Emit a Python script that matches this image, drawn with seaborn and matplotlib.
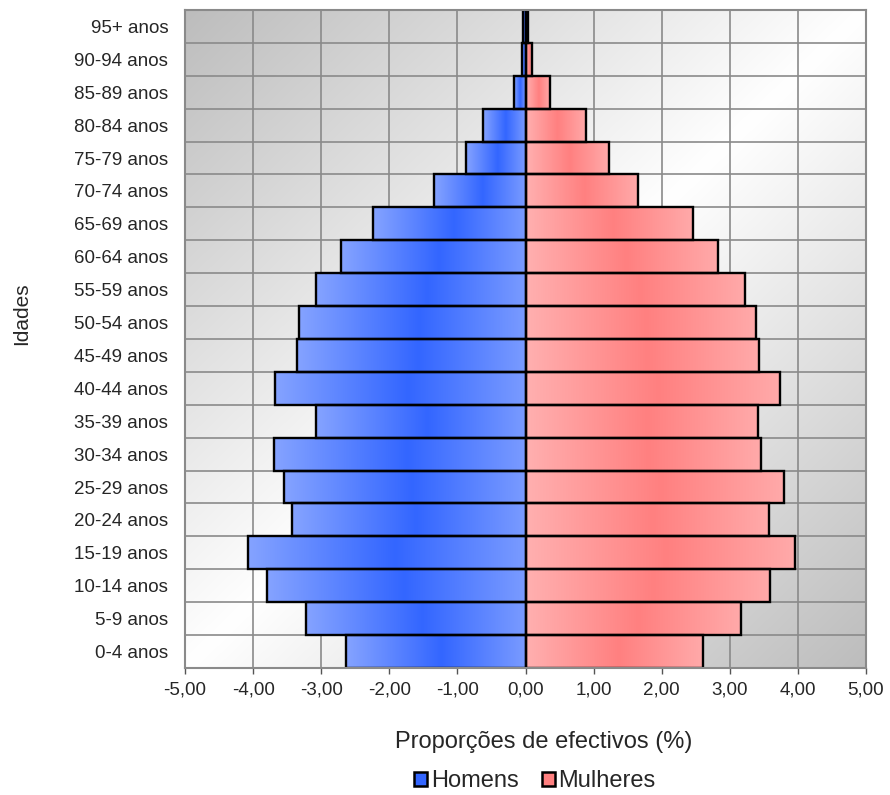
import numpy as np
import pandas as pd
import seaborn as sns
import matplotlib.pyplot as plt
from matplotlib.colors import LinearSegmentedColormap
from matplotlib.patches import Patch
from matplotlib.ticker import FixedLocator

sns.set_style("ticks")
plt.rcParams["font.family"] = ["Liberation Sans", "DejaVu Sans"]

# dados (proporções em %)
idades = ["95+ anos", "90-94 anos", "85-89 anos", "80-84 anos", "75-79 anos",
          "70-74 anos", "65-69 anos", "60-64 anos", "55-59 anos", "50-54 anos",
          "45-49 anos", "40-44 anos", "35-39 anos", "30-34 anos", "25-29 anos",
          "20-24 anos", "15-19 anos", "10-14 anos", "5-9 anos", "0-4 anos"]
homens = [-0.03, -0.05, -0.17, -0.63, -0.87, -1.34, -2.24, -2.71, -3.08, -3.33,
          -3.36, -3.68, -3.07, -3.70, -3.54, -3.43, -4.08, -3.79, -3.22, -2.63]
mulheres = [0.04, 0.09, 0.36, 0.89, 1.22, 1.65, 2.46, 2.82, 3.22, 3.38,
            3.43, 3.74, 3.41, 3.46, 3.80, 3.58, 3.96, 3.59, 3.16, 2.60]
xticks = [-5, -4, -3, -2, -1, 0, 1, 2, 3, 4, 5]
xlabels = ["-5,00", "-4,00", "-3,00", "-2,00", "-1,00", "0,00",
           "1,00", "2,00", "3,00", "4,00", "5,00"]

df = pd.DataFrame({
    "idade": idades * 2,
    "valor": homens + mulheres,
    "sexo": ["Homens"] * len(idades) + ["Mulheres"] * len(idades),
})

cores = {"Homens": "#3366ff", "Mulheres": "#ff8080"}
cmap_h = LinearSegmentedColormap.from_list("h", [(0, "#85a3ff"), (0.53, "#3366ff"), (1, "#7a9bff")])
cmap_m = LinearSegmentedColormap.from_list("m", [(0, "#ffb0b0"), (0.52, "#ff8080"), (1, "#ffaaaa")])

fig = plt.figure(figsize=(8.9, 7.95), dpi=100)
ax = fig.add_axes([185 / 890, 1 - 668 / 795, 681 / 890, 658 / 795])

sns.barplot(data=df, x="valor", y="idade", hue="sexo", order=idades,
            palette=cores, dodge=False, width=1.0, legend=False, ax=ax)

# fundo com gradiente diagonal
n = 300
xn, yn = np.meshgrid(np.linspace(0, 1, n), np.linspace(0, 1, n))
g = 1 - 0.26 * np.abs(xn + yn - 1)
ax.imshow(np.dstack([g, g, g]), extent=[0, 1, 0, 1], transform=ax.transAxes,
          aspect="auto", zorder=0, interpolation="bilinear")

# barras com gradiente horizontal
grad = np.linspace(0, 1, 256).reshape(1, -1)
for cont, cmap in zip(ax.containers, [cmap_h, cmap_m]):
    for bar in cont:
        x0 = min(bar.get_x(), bar.get_x() + bar.get_width())
        x1 = max(bar.get_x(), bar.get_x() + bar.get_width())
        y0, y1 = bar.get_y(), bar.get_y() + bar.get_height()
        ax.imshow(grad, cmap=cmap, extent=[x0, x1, y1, y0], aspect="auto",
                  zorder=1.5, interpolation="bilinear")
        bar.set_facecolor("none")
        bar.set_edgecolor("black")
        bar.set_linewidth(1.7)
        bar.set_zorder(2)

ax.set_xlim(-5, 5)
ax.set_ylim(len(idades) - 0.5, -0.5)
ax.set_xticks(xticks)
ax.set_xticklabels(xlabels)
ax.yaxis.set_minor_locator(FixedLocator(np.arange(-0.5, len(idades), 1)))
ax.set_axisbelow(True)
ax.grid(axis="x", which="major", color="#8a8a8a", lw=1.2)
ax.grid(axis="y", which="minor", color="#8a8a8a", lw=1.2)
ax.grid(axis="y", which="major", visible=False)

for s in ax.spines.values():
    s.set_color("#8a8a8a")
    s.set_linewidth(1.5)

ax.tick_params(axis="x", length=4, width=1, color="#555555", pad=6, labelsize=13.5)
ax.tick_params(axis="y", which="both", length=0, pad=12, labelsize=13.5)

ax.set_xlabel("Proporções de efectivos (%)", fontsize=17)
ax.set_ylabel("Idades", fontsize=15)
ax.xaxis.set_label_coords((544 - 185) / 681, (668 - 742) / 658)
ax.xaxis.label.set_va("center")
ax.yaxis.set_label_coords((22 - 185) / 681, (668 - 314) / 658)
ax.yaxis.label.set_va("center")

handles = [Patch(facecolor=cores["Homens"], edgecolor="black", lw=1.8),
           Patch(facecolor=cores["Mulheres"], edgecolor="black", lw=1.8)]
fig.legend(handles, ["Homens", "Mulheres"], loc="center", ncol=2,
           bbox_to_anchor=(535 / 890, 1 - 781 / 795), frameon=False,
           fontsize=17, handlelength=0.55, handleheight=0.55,
           handletextpad=0.15, columnspacing=1.0, borderpad=0)

fig.savefig("out.png", dpi=100)
